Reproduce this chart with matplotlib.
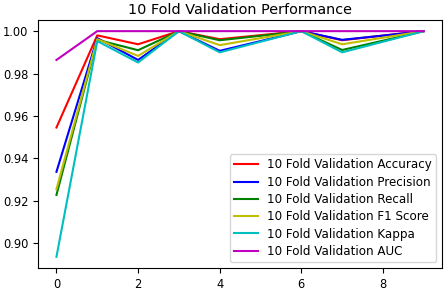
import matplotlib
matplotlib.use("Agg")
import matplotlib.pyplot as plt

folds = list(range(10))
accuracy = [0.9545, 0.9980, 0.9938, 1.0, 0.9962, 0.9981, 1.0, 0.9957, 0.9979, 1.0]
precision = [0.9336, 0.9967, 0.9864, 1.0, 0.9907, 0.9953, 1.0, 0.9959, 0.9979, 1.0]
recall = [0.9227, 0.9959, 0.9910, 1.0, 0.9957, 0.9978, 1.0, 0.9911, 0.9955, 1.0]
f1 = [0.9254, 0.9962, 0.9883, 1.0, 0.9934, 0.9967, 1.0, 0.9938, 0.9969, 1.0]
kappa = [0.8935, 0.9953, 0.9852, 1.0, 0.9900, 0.9950, 1.0, 0.9900, 0.9950, 1.0]
auc = [0.9864, 1.0, 1.0, 1.0, 1.0, 1.0, 1.0, 1.0, 1.0, 1.0]

fig = plt.figure(figsize=(4.48, 2.92), dpi=100)
ax = fig.add_axes([0.085, 0.082, 0.902, 0.85])
ax.plot(folds, accuracy, color='r', label='10 Fold Validation Accuracy')
ax.plot(folds, precision, color='b', label='10 Fold Validation Precision')
ax.plot(folds, recall, color='g', label='10 Fold Validation Recall')
ax.plot(folds, f1, color='y', label='10 Fold Validation F1 Score')
ax.plot(folds, kappa, color='c', label='10 Fold Validation Kappa')
ax.plot(folds, auc, color='m', label='10 Fold Validation AUC')
ax.set_title('10 Fold Validation Performance', fontsize=10.4, pad=4)
ax.tick_params(labelsize=8.3)
ax.legend(loc='lower right', fontsize=8.6, handlelength=2.0, borderaxespad=0.5,
          labelspacing=0.36, borderpad=0.35)
fig.savefig('out.png', dpi=100)
